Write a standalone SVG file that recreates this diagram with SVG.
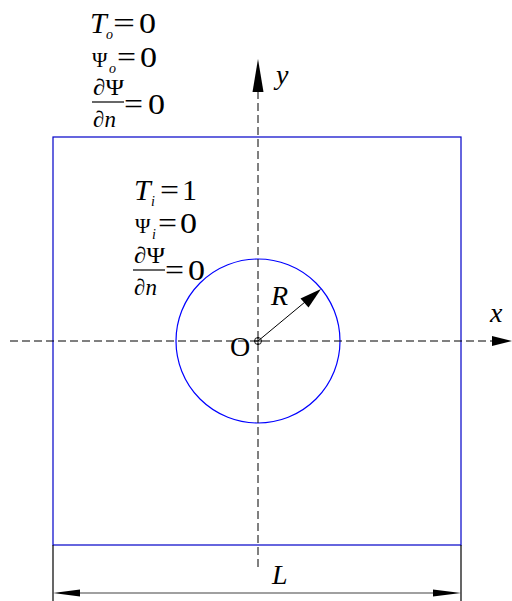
<svg xmlns="http://www.w3.org/2000/svg" width="512" height="601" viewBox="0 0 512 601">
<style>
.t{font-family:"Liberation Serif","Times New Roman",serif;fill:#000}
.i{font-style:italic}
.ax{stroke:#000;stroke-width:1;stroke-dasharray:8 4;fill:none}
</style>
<rect width="512" height="601" fill="#fff"/>
<g id="square"><rect x="53" y="137" width="408" height="408" fill="none" stroke="#0000c8" stroke-width="1.2"/></g>
<g id="circle"><circle cx="258" cy="341" r="82" fill="none" stroke="#0000ff" stroke-width="1.2"/></g>
<g id="connectors">
<line class="ax" x1="258" y1="567" x2="258" y2="92"/>
<path d="M258,59 L252.5,92 L263.5,92 z" fill="#000"/>
<line class="ax" x1="10" y1="341" x2="492" y2="341"/>
<path d="M512,341 L492,336 L492,346 z" fill="#000"/>
<line x1="258" y1="341" x2="305" y2="302" stroke="#000" stroke-width="1"/>
<path d="M321,289 L300.5,298.5 L308.5,307.5 z" fill="#000"/>
<circle cx="258" cy="341" r="3.5" fill="none" stroke="#000" stroke-width="0.9"/>
<line x1="254" y1="341" x2="262" y2="341" stroke="#000" stroke-width="0.9"/>
<line x1="258" y1="337" x2="258" y2="345" stroke="#000" stroke-width="0.9"/>
<line x1="53" y1="545" x2="53" y2="601" stroke="#000" stroke-width="1.2"/>
<line x1="461" y1="545" x2="461" y2="601" stroke="#000" stroke-width="1.2"/>
<line x1="80" y1="593" x2="433" y2="593" stroke="#808080" stroke-width="1.5"/>
<path d="M53,593 L80,589.5 L80,596.5 z" fill="#000"/>
<path d="M461,593 L433,589.5 L433,596.5 z" fill="#000"/>
</g>
<g id="outer-conditions">
<text class="t i" x="90" y="33" font-size="30">T</text>
<text class="t i" x="106" y="39" font-size="14">o</text>
<text class="t" x="113" y="33" font-size="30" textLength="22" lengthAdjust="spacingAndGlyphs">=</text>
<text class="t" x="139" y="33" font-size="30" textLength="17" lengthAdjust="spacingAndGlyphs">0</text>
<text class="t" x="92" y="67" font-size="21">Ψ</text>
<text class="t i" x="109" y="73" font-size="14">o</text>
<text class="t" x="117" y="67" font-size="30" textLength="19" lengthAdjust="spacingAndGlyphs">=</text>
<text class="t" x="140" y="67" font-size="30" textLength="17" lengthAdjust="spacingAndGlyphs">0</text>
<text class="t" x="93" y="95" font-size="23" textLength="31" lengthAdjust="spacingAndGlyphs">∂Ψ</text>
<line x1="92" y1="102" x2="124" y2="102" stroke="#000" stroke-width="1.2"/>
<text class="t" x="93" y="127" font-size="23">∂<tspan class="i">n</tspan></text>
<text class="t" x="124" y="114" font-size="30" textLength="19" lengthAdjust="spacingAndGlyphs">=</text>
<text class="t" x="148" y="114" font-size="30" textLength="17" lengthAdjust="spacingAndGlyphs">0</text>
</g>
<g id="inner-conditions">
<text class="t i" x="134" y="200" font-size="30">T</text>
<text class="t i" x="151" y="206" font-size="14">i</text>
<text class="t" x="160" y="200" font-size="30" textLength="19" lengthAdjust="spacingAndGlyphs">=</text>
<text class="t" x="182" y="200" font-size="30">1</text>
<text class="t" x="135" y="233" font-size="21">Ψ</text>
<text class="t i" x="152" y="239" font-size="14">i</text>
<text class="t" x="158" y="233" font-size="30" textLength="19" lengthAdjust="spacingAndGlyphs">=</text>
<text class="t" x="180" y="233" font-size="30" textLength="17" lengthAdjust="spacingAndGlyphs">0</text>
<text class="t" x="134" y="263" font-size="23" textLength="31" lengthAdjust="spacingAndGlyphs">∂Ψ</text>
<line x1="133" y1="270" x2="165" y2="270" stroke="#000" stroke-width="1.2"/>
<text class="t" x="134" y="295" font-size="23">∂<tspan class="i">n</tspan></text>
<text class="t" x="165" y="280" font-size="30" textLength="19" lengthAdjust="spacingAndGlyphs">=</text>
<text class="t" x="188" y="280" font-size="30" textLength="17" lengthAdjust="spacingAndGlyphs">0</text>
</g>
<g id="labels">
<text class="t" x="230" y="356" font-size="28">O</text>
<text class="t i" x="271" y="305" font-size="28">R</text>
<text class="t i" x="490" y="322" font-size="28">x</text>
<text class="t i" x="276" y="84" font-size="28">y</text>
<text class="t i" x="272" y="584" font-size="28">L</text>
</g>
</svg>
